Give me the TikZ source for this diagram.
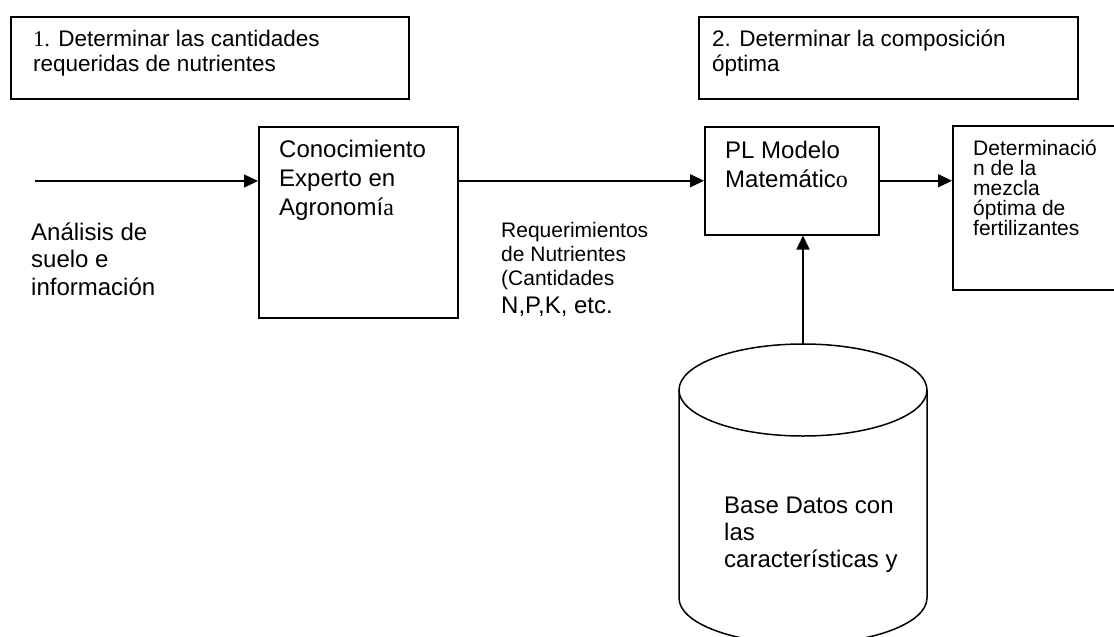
\documentclass[tikz,border=0pt]{standalone}
\usepackage{fontspec}
\setmainfont{Liberation Sans}
\newfontfamily\romana{Liberation Serif}
\usepackage{tikz}
\usetikzlibrary{arrows.meta,positioning}

\begin{document}
\begin{tikzpicture}[x=1pt,y=1pt,
caja/.style={
% The shape:
rectangle, anchor=north west, inner sep=0pt,
% The border:
draw=black, line width=1.5pt
},
texto/.style={
% text set from the baseline of its last line
anchor=base west, inner sep=0pt, align=left,
font=\fontsize{24}{29}\selectfont
},
titulo/.style={texto, font=\fontsize{22.5}{25}\selectfont},
chico/.style={texto, font=\fontsize{21}{24}\selectfont},
flecha/.style={line width=1.5pt, -{Triangle[length=14pt,width=13pt]}}]

\useasboundingbox (0,0) rectangle (1114,-637);

% the two headings
\node (b1) [caja, minimum width=398, minimum height=82] at (10,-16) {};
\node (t1) [titulo] at (33,-71) {{\romana 1.} Determinar las cantidades\\requeridas de nutrientes};
\node (b2) [caja, minimum width=379, minimum height=82] at (698,-16) {};
\node (t2) [titulo] at (712,-71) {2. Determinar la composición\\óptima};

% the chain of boxes
\node (c) [caja, minimum width=199, minimum height=191] at (258,-126) {};
\node (ct) [texto] at (279,-215) {Conocimiento\\Experto en\\Agronomí{\romana a}};
\node (pl) [caja, minimum width=174, minimum height=108] at (704,-126) {};
\node (plt) [texto] at (725,-187) {PL Modelo\\Matemátic{\romana o}};
\node (r) [caja, minimum width=200, minimum height=164] at (952,-125) {};
\node (rt) [texto, font=\fontsize{21}{20}\selectfont] at (973,-235)
  {Determinació\\n de la\\mezcla\\óptima de\\fertilizantes};

% free texts
\node (an) [texto, font=\fontsize{24}{27.5}\selectfont] at (31,-295) {Análisis de\\suelo e\\información};
\node (req) [chico] at (501,-313)
  {Requerimientos\\de Nutrientes\\(Cantidades\\[4pt]{\fontsize{24}{28}\selectfont N,P,K, etc.}};

% data base
\draw[line width=1.5pt] (803,-390) ellipse [x radius=124, y radius=46];
\draw[line width=1.5pt] (679,-390) -- (679,-598)
  arc [start angle=180, end angle=360, x radius=124, y radius=46] -- (927,-390);
\coordinate (bd) at (803,-344);
\node (bdt) [texto, font=\fontsize{24}{27}\selectfont] at (724,-567) {Base Datos con\\las\\características y};

\coordinate (in) at (35,-181);
\path (in) edge[flecha] (in -| c.west);
\path (c.east |- pl.west) edge[flecha] (pl.west);
\path (pl.east) edge[flecha] (pl.east -| r.west);
\path (bd) edge[flecha] (bd |- pl.south);
\end{tikzpicture}
\end{document}
